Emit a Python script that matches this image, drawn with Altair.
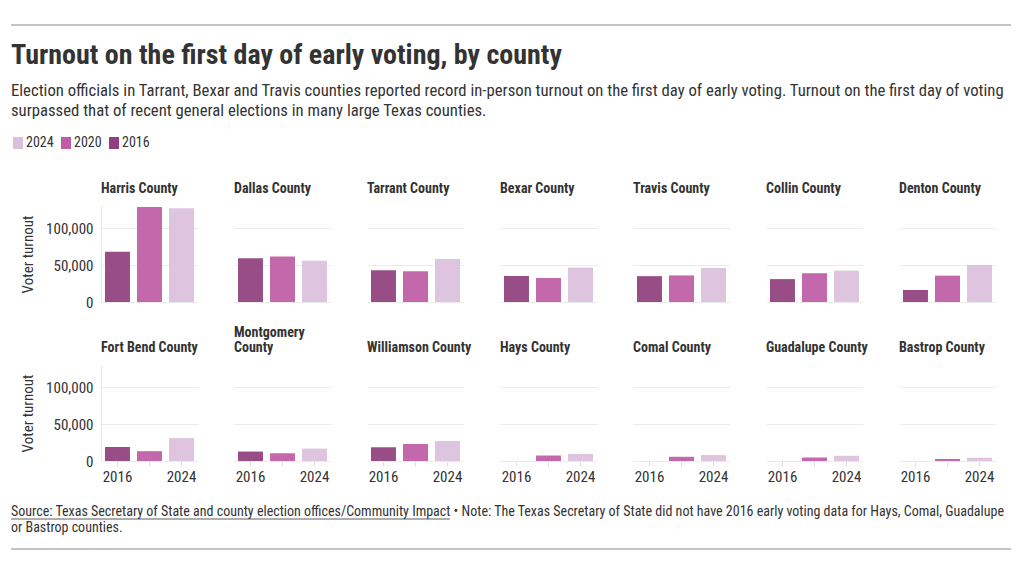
import altair as alt
import pandas as pd

FONT = "Roboto Condensed, Liberation Sans Narrow, Roboto, sans-serif"
TEXT_COLOR = "#333333"
LEFT = -90  # header/footer start, relative to the first panel's left edge

TITLE = "Turnout on the first day of early voting, by county"
SUBTITLE = [
    "Election officials in Tarrant, Bexar and Travis counties reported record in-person turnout on the first day of early voting. Turnout on the first day of voting",
    "surpassed that of recent general elections in many large Texas counties.",
]
FOOTER = [
    "Source: Texas Secretary of State and county election offices/Community Impact \u2022 Note: The Texas Secretary of State did not have 2016 early voting data for Hays, Comal, Guadalupe",
    "or Bastrop counties.",
]

counties = [
    "Harris County", "Dallas County", "Tarrant County", "Bexar County", "Travis County",
    "Collin County", "Denton County", "Fort Bend County", "Montgomery County",
    "Williamson County", "Hays County", "Comal County", "Guadalupe County", "Bastrop County",
]
years = ["2016", "2020", "2024"]
legend_order = ["2024", "2020", "2016"]
year_colors = ["#dbc0db", "#c05ca6", "#913f7e"]  # in legend_order

turnout_2016 = [68000, 59200, 43000, 35300, 35000, 31000, 16300, 19000, 12800, 18600, None, None, None, None]
turnout_2020 = [128700, 61500, 41600, 32600, 36000, 39000, 35700, 13300, 10600, 23000, 7500, 5700, 4900, 2700]
turnout_2024 = [126800, 56000, 58300, 46600, 46000, 42500, 50000, 31000, 16800, 27000, 9700, 8000, 7000, 4400]

y_ticks = [0, 50000, 100000]
x_labels_shown = ["2016", "2024"]
wrapped_names = {"Montgomery County": ["Montgomery", "County"]}

rows = []
for yr, series in zip(years, [turnout_2016, turnout_2020, turnout_2024]):
    for c, v in zip(counties, series):
        if v is not None:
            rows.append({"county": c, "year": yr, "turnout": v})
df = pd.DataFrame(rows)

one = pd.DataFrame({"a": [0]})


def text_line(txt, y, size, weight="normal"):
    return alt.Chart(pd.DataFrame({"t": [txt]})).mark_text(
        align="left", baseline="alphabetic", font=FONT, fontSize=size,
        fontWeight=weight, color=TEXT_COLOR
    ).encode(text="t:N", x=alt.value(LEFT), y=alt.value(y))


def hrule(y, x2, color="#8a8a8a", width=1):
    return alt.Chart(one).mark_rule(color=color, strokeWidth=width).encode(
        x=alt.value(LEFT), x2=alt.value(x2), y=alt.value(y))


# ---------- header ----------
header_chart = alt.layer(
    hrule(17, LEFT + 1000),
    text_line(TITLE, 56, 28, "bold"),
    text_line(SUBTITLE[0], 88, 16.7),
    text_line(SUBTITLE[1], 108, 16.7),
).properties(width=1, height=128)

# ---------- small multiples ----------
label_expr_x = f"indexof({x_labels_shown!r}, datum.value) >= 0 ? datum.value : ''"
wrap_expr = "datum.value"
for name, parts in wrapped_names.items():
    wrap_expr = f"datum.value == {name!r} ? {parts!r} : ({wrap_expr})"

bars = alt.Chart(df).mark_bar(opacity=0.93).encode(
    x=alt.X("year:N", sort=years, title=None,
            scale=alt.Scale(paddingInner=0.22, paddingOuter=0.125),
            axis=alt.Axis(labelAngle=0, labelExpr=label_expr_x, domain=False,
                          tickColor="#dddddd", tickSize=5, labelPadding=3)),
    y=alt.Y("turnout:Q", title="Voter turnout",
            scale=alt.Scale(domain=[0, 130000], nice=False),
            axis=alt.Axis(values=y_ticks, format=",.0f", ticks=False, labelPadding=8,
                          titlePadding=10, domainColor="#e6e6e6", gridColor="#ebebeb")),
    color=alt.Color("year:N",
                    scale=alt.Scale(domain=legend_order, range=year_colors),
                    legend=alt.Legend(title=None, orient="none", legendX=LEFT, legendY=-70,
                                      direction="horizontal",
                                      symbolType="M -0.83 -1 H 0.83 V 1 H -0.83 Z",
                                      symbolSize=144, symbolStrokeWidth=0, symbolOpacity=1,
                                      labelFontSize=14, labelOffset=1, columnPadding=5)),
).properties(width=97, height=96)

grid = bars.facet(
    facet=alt.Facet("county:N", sort=counties, title=None,
                    header=alt.Header(labelFont=FONT, labelFontSize=14, labelFontWeight="bold",
                                      labelColor=TEXT_COLOR, labelAnchor="start", labelAlign="left",
                                      labelPadding=10, labelLineHeight=15, labelExpr=wrap_expr)),
    columns=7,
    spacing={"row": 63, "column": 36},
    bounds="flush",
)

# ---------- footer ----------
footer_chart = alt.layer(
    text_line(FOOTER[0], 32, 14),
    text_line(FOOTER[1], 48, 14),
    hrule(35, LEFT + 439, color=TEXT_COLOR, width=0.8),
    hrule(65, LEFT + 1000),
).properties(width=1, height=70)

chart = alt.vconcat(header_chart, grid, footer_chart, spacing=0).resolve_legend(
    color="independent"
).properties(
    padding={"left": 2, "top": 0, "right": 0, "bottom": 0}
).configure_view(strokeWidth=0).configure_axis(
    labelFont=FONT, titleFont=FONT, labelFontSize=15, titleFontSize=15,
    labelColor=TEXT_COLOR, titleColor=TEXT_COLOR, titleFontWeight="normal"
).configure_legend(labelFont=FONT, labelColor=TEXT_COLOR)

chart.save("out.html", embed_options={"renderer": "svg", "actions": False})
